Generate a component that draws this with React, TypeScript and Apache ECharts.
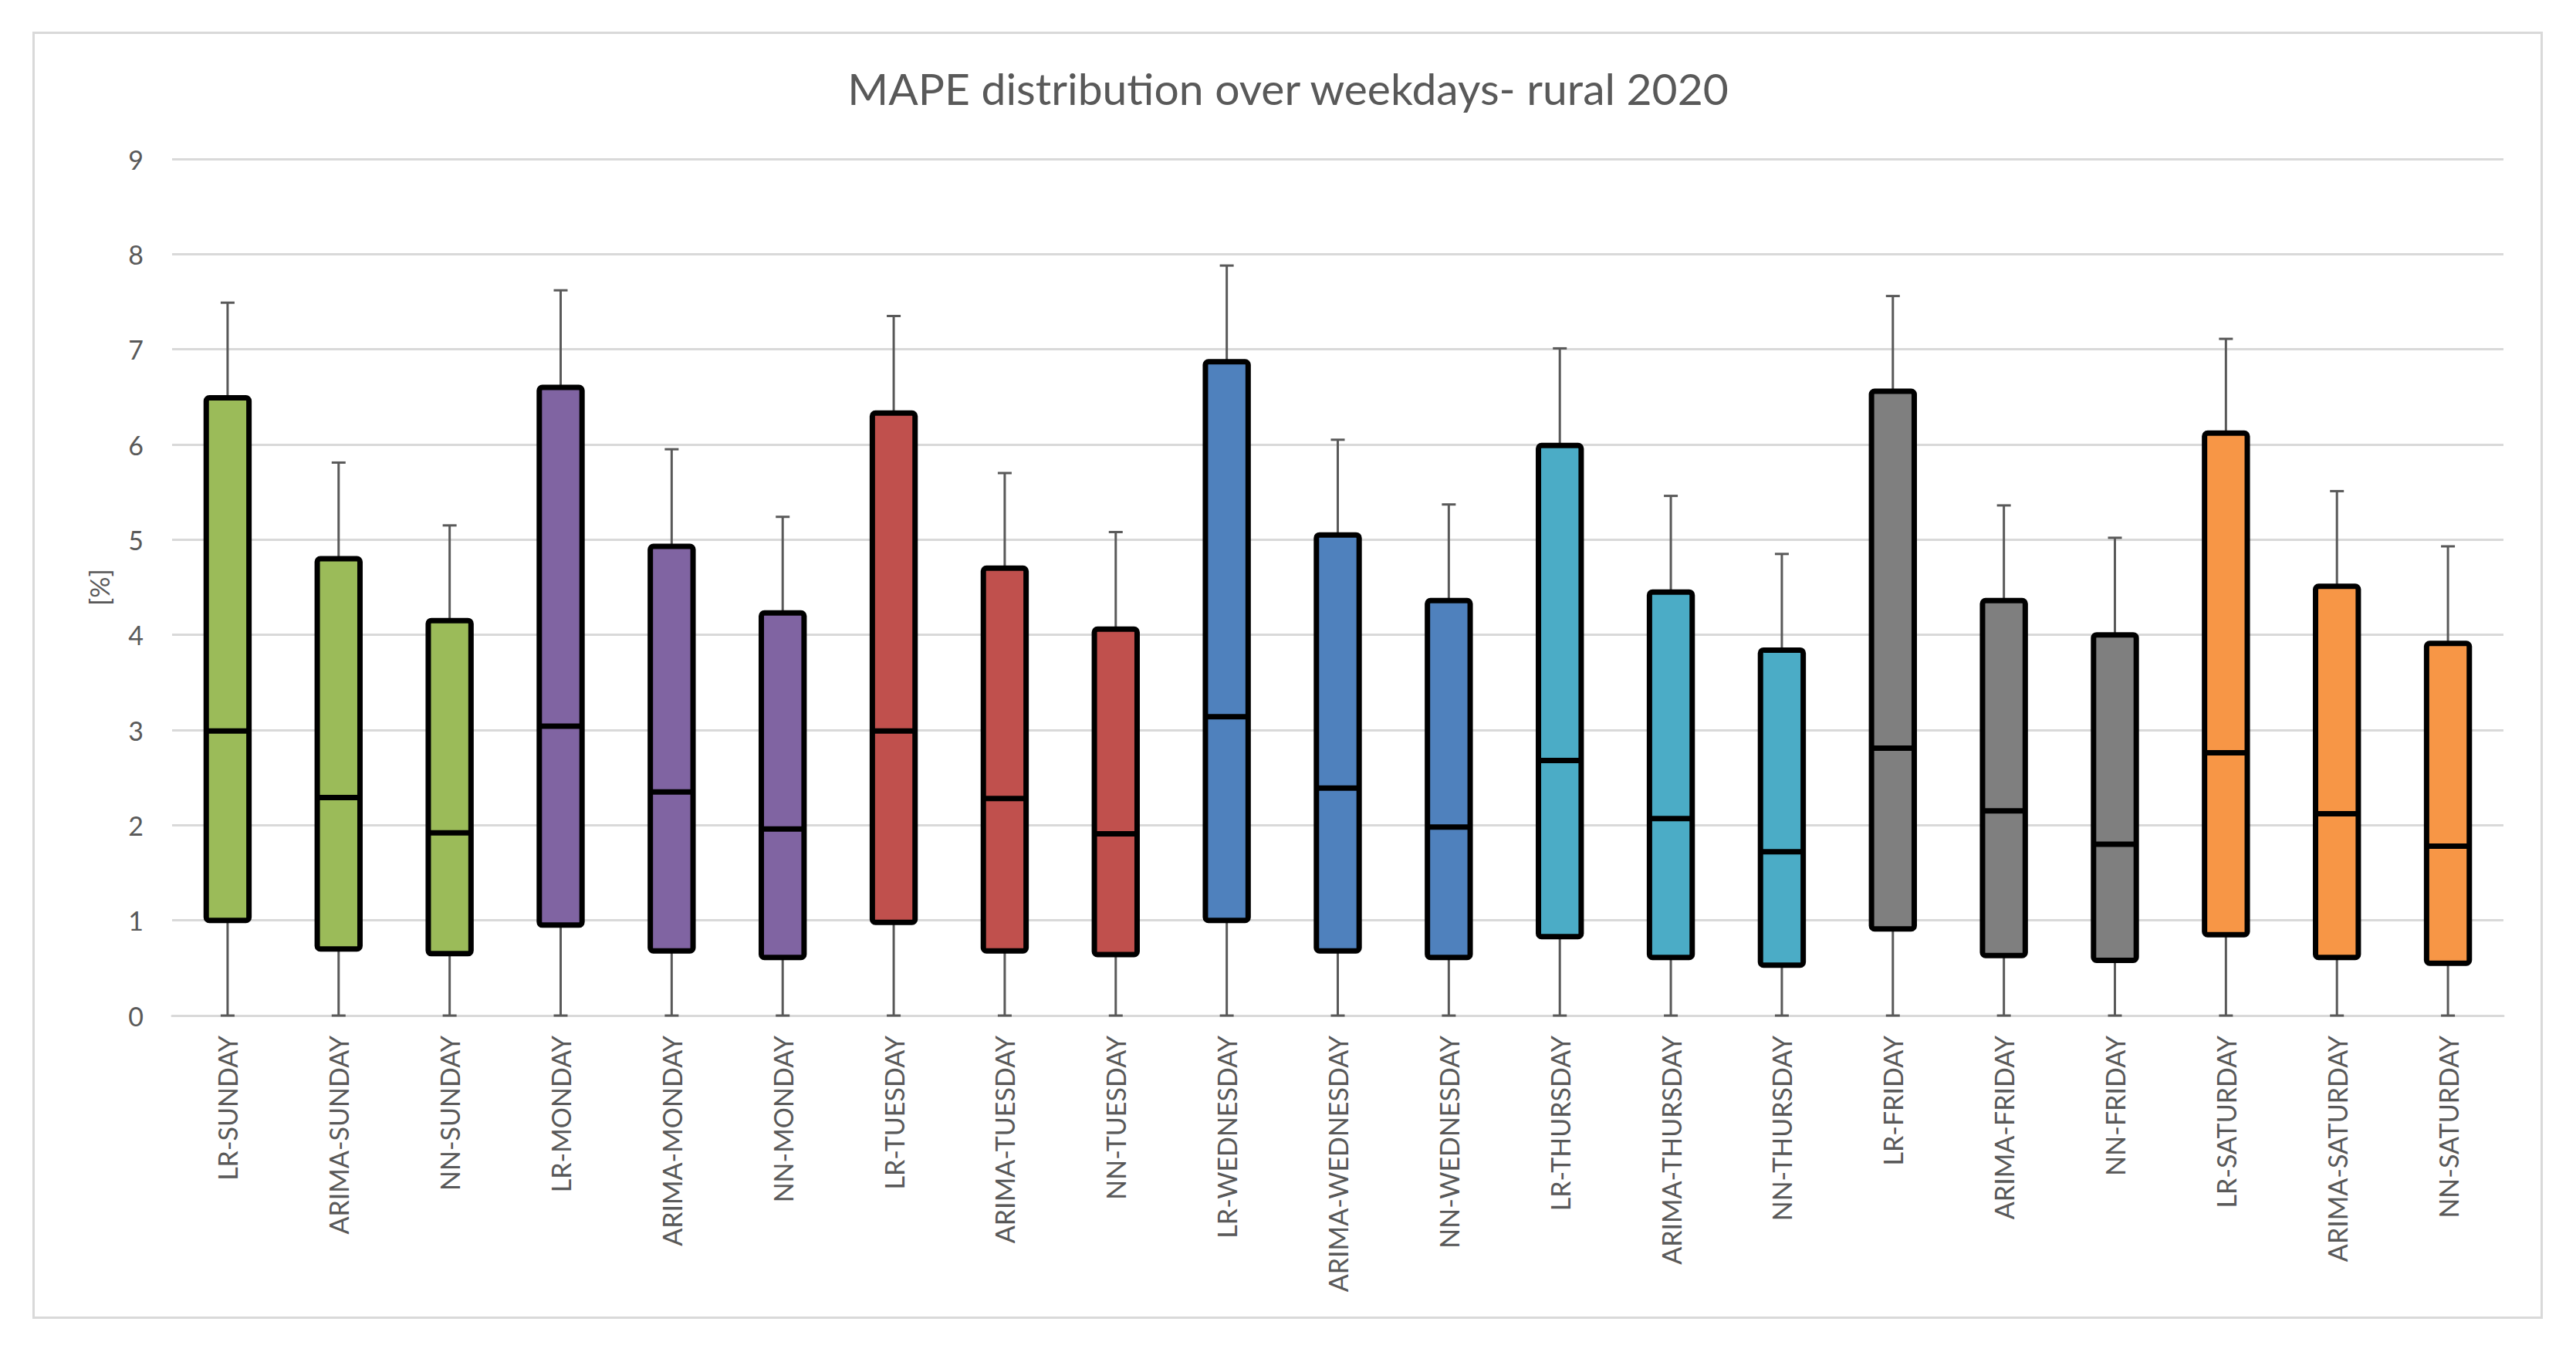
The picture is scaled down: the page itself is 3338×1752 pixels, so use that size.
import React, { useEffect, useRef } from "react";
import * as echarts from "echarts";

const categories = [
  "LR-SUNDAY", "ARIMA-SUNDAY", "NN-SUNDAY",
  "LR-MONDAY", "ARIMA-MONDAY", "NN-MONDAY",
  "LR-TUESDAY", "ARIMA-TUESDAY", "NN-TUESDAY",
  "LR-WEDNESDAY", "ARIMA-WEDNESDAY", "NN-WEDNESDAY",
  "LR-THURSDAY", "ARIMA-THURSDAY", "NN-THURSDAY",
  "LR-FRIDAY", "ARIMA-FRIDAY", "NN-FRIDAY",
  "LR-SATURDAY", "ARIMA-SATURDAY", "NN-SATURDAY",
];

const whiskerMin = [0, 0, 0, 0, 0, 0, 0, 0, 0, 0, 0, 0, 0, 0, 0, 0, 0, 0, 0, 0, 0];
const q1 = [1.0, 0.7, 0.65, 0.95, 0.68, 0.61, 0.98, 0.68, 0.64, 1.0, 0.68, 0.61, 0.83, 0.61, 0.53, 0.91, 0.63, 0.58, 0.85, 0.61, 0.55];
const median = [2.99, 2.29, 1.92, 3.04, 2.35, 1.96, 2.99, 2.28, 1.91, 3.14, 2.39, 1.98, 2.68, 2.07, 1.72, 2.81, 2.15, 1.8, 2.76, 2.12, 1.78];
const q3 = [6.49, 4.8, 4.15, 6.6, 4.93, 4.23, 6.33, 4.7, 4.06, 6.87, 5.05, 4.36, 5.99, 4.45, 3.84, 6.56, 4.36, 4.0, 6.12, 4.51, 3.91];
const whiskerMax = [7.49, 5.81, 5.15, 7.62, 5.95, 5.24, 7.35, 5.7, 5.08, 7.88, 6.05, 5.37, 7.01, 5.46, 4.85, 7.56, 5.36, 5.02, 7.11, 5.51, 4.93];

const dayColors = ["#9BBB59", "#8064A2", "#C0504D", "#4F81BD", "#4BACC6", "#7F7F7F", "#F79646"];

const yTicks = [0, 1, 2, 3, 4, 5, 6, 7, 8, 9];

const TEXT = "#595959";
const GRIDC = "#D9D9D9";
const FONT = "Lato, 'Open Sans', sans-serif";

export default function App() {
  const ref = useRef<HTMLDivElement>(null);

  useEffect(() => {
    document.body.style.margin = "0";
    document.body.style.overflow = "hidden";
    const chart = echarts.init(ref.current!, undefined, { renderer: "svg" });

    const data = categories.map((_, i) => [i, whiskerMin[i], q1[i], median[i], q3[i], whiskerMax[i]]);

    const option: any = {
      animation: false,
      backgroundColor: "#ffffff",
      graphic: [
        {
          type: "rect",
          z: -10,
          shape: { x: 43.5, y: 42.5, width: 3250, height: 1665 },
          style: { fill: "#ffffff", stroke: GRIDC, lineWidth: 3 },
          silent: true,
        },
      ],
      title: {
        text: "MAPE distribution over weekdays- rural 2020",
        left: "center",
        top: 80,
        textStyle: { color: TEXT, fontSize: 57, fontWeight: "normal", fontFamily: FONT },
      },
      grid: { left: 223, right: 94, top: 206, bottom: 436, containLabel: false },
      xAxis: {
        type: "category",
        data: categories,
        axisLine: { show: true, lineStyle: { color: GRIDC, width: 3 } },
        axisTick: { show: false },
        axisLabel: {
          rotate: 90,
          interval: 0,
          margin: 26,
          color: TEXT,
          fontSize: 34,
          fontFamily: FONT,
        },
        splitLine: { show: false },
      },
      yAxis: {
        type: "value",
        min: yTicks[0],
        max: yTicks[yTicks.length - 1],
        interval: 1,
        name: "[%]",
        nameLocation: "middle",
        nameGap: 78,
        nameTextStyle: { color: TEXT, fontSize: 34, fontFamily: FONT },
        axisLine: { show: false },
        axisTick: { show: false },
        axisLabel: { color: TEXT, fontSize: 34, fontFamily: FONT, margin: 37 },
        splitLine: { show: true, lineStyle: { color: GRIDC, width: 3 } },
      },
      series: [
        {
          type: "custom",
          clip: false,
          data,
          encode: { x: 0, y: [1, 2, 3, 4, 5] },
          renderItem: (params: any, api: any) => {
            const idx = api.value(0);
            const color = dayColors[Math.floor(idx / 3)];
            const pMin = api.coord([idx, api.value(1)]);
            const pQ1 = api.coord([idx, api.value(2)]);
            const pMed = api.coord([idx, api.value(3)]);
            const pQ3 = api.coord([idx, api.value(4)]);
            const pMax = api.coord([idx, api.value(5)]);
            const band = api.size([1, 0])[0];
            const bw = band * 0.385;
            const cx = pMed[0];
            const cap = 9;
            const wStyle = { stroke: "#595959", lineWidth: 3 };
            return {
              type: "group",
              children: [
                { type: "line", shape: { x1: cx, y1: pQ3[1], x2: cx, y2: pMax[1] }, style: wStyle },
                { type: "line", shape: { x1: cx - cap, y1: pMax[1], x2: cx + cap, y2: pMax[1] }, style: wStyle },
                { type: "line", shape: { x1: cx, y1: pQ1[1], x2: cx, y2: pMin[1] }, style: wStyle },
                { type: "line", shape: { x1: cx - cap, y1: pMin[1], x2: cx + cap, y2: pMin[1] }, style: wStyle },
                {
                  type: "rect",
                  shape: { x: cx - bw / 2, y: pQ3[1], width: bw, height: pQ1[1] - pQ3[1], r: 4 },
                  style: { fill: color, stroke: "#000000", lineWidth: 7 },
                },
                {
                  type: "line",
                  shape: { x1: cx - bw / 2, y1: pMed[1], x2: cx + bw / 2, y2: pMed[1] },
                  style: { stroke: "#000000", lineWidth: 7 },
                },
              ],
            };
          },
        },
      ],
    };

    chart.setOption(option);
    return () => chart.dispose();
  }, []);

  return <div ref={ref} style={{ width: "3338px", height: "1752px" }} />;
}
